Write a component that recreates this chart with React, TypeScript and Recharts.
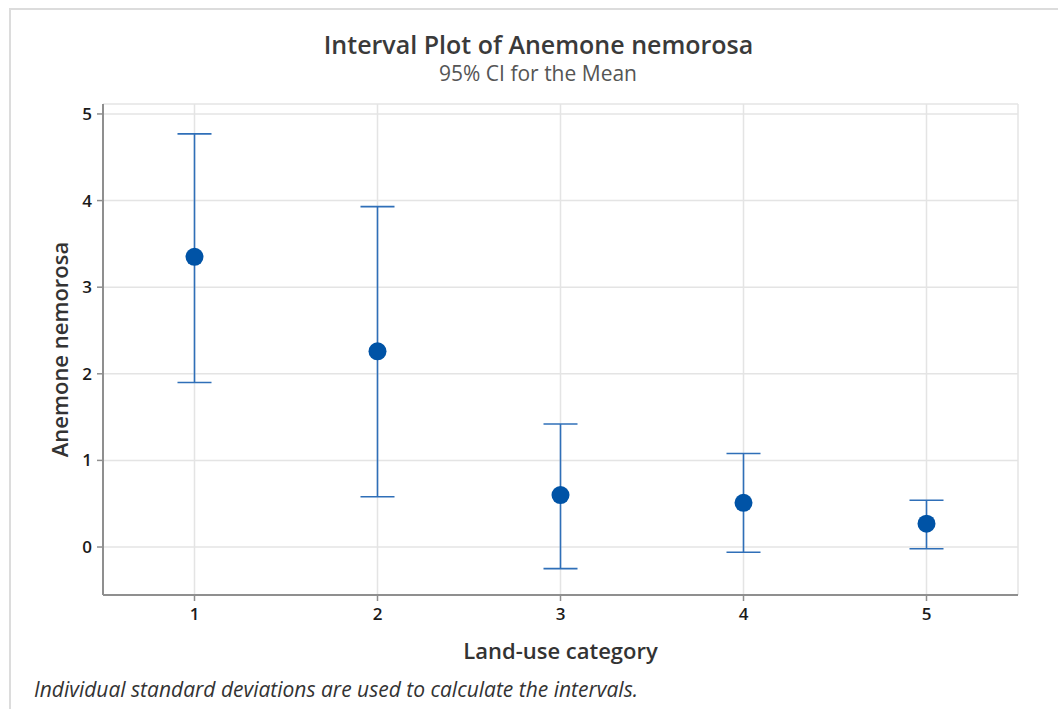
import React from "react";
import {
  ScatterChart,
  Scatter,
  XAxis,
  YAxis,
  CartesianGrid,
  ErrorBar,
  Label,
} from "recharts";

// Land-use categories and the 95% CI for the mean of each
const categories = [1, 2, 3, 4, 5];
const means = [3.35, 2.26, 0.6, 0.51, 0.27];
const lowers = [1.9, 0.58, -0.25, -0.06, -0.02];
const uppers = [4.77, 3.93, 1.42, 1.08, 0.54];
const yTicks = [0, 1, 2, 3, 4, 5];

const data = categories.map((c, i) => ({
  x: c,
  mean: means[i],
  ci: [means[i] - lowers[i], uppers[i] - means[i]],
}));

const FONT = "'Open Sans', 'Noto Sans', sans-serif";
const AXIS_GRAY = "#8f8f8f";
const GRID = "#e4e4e4";
const BAR_BLUE = "#2f6fb8";
const DOT_BLUE = "#0053a6";

const tickText = { fill: "#1a1a1a", fontSize: 17, fontWeight: 600, fontFamily: FONT };

type TickProps = { x?: number; y?: number; payload?: { value: number } };

function XTick({ x = 0, y = 0, payload }: TickProps) {
  return (
    <text x={x} y={y + 17} textAnchor="middle" style={tickText}>
      {payload?.value}
    </text>
  );
}

function YTick({ x = 0, y = 0, payload }: TickProps) {
  return (
    <text x={x - 1} y={y + 6} textAnchor="end" style={tickText}>
      {payload?.value}
    </text>
  );
}

function Dot(props: { cx?: number; cy?: number }) {
  const { cx, cy } = props;
  if (cx == null || cy == null) return null;
  return <circle cx={cx} cy={cy} r={9} fill={DOT_BLUE} />;
}

export default function App(): React.JSX.Element {
  return (
    <div style={{ position: "absolute", left: 0, top: 0, width: 1058, height: 709, background: "#fff", fontFamily: FONT }}>
      {/* outer panel border */}
      <div
        style={{
          position: "absolute",
          left: 9,
          top: 8,
          width: 1049,
          height: 701,
          borderTop: "2px solid #dcdcdc",
          borderLeft: "2px solid #dcdcdc",
        }}
      />
      <div style={{ position: "absolute", left: 0, top: 27, width: 1077, textAlign: "center", fontSize: 25, fontWeight: 600, color: "#3a3a3a" }}>
        Interval Plot of Anemone nemorosa
      </div>
      <div style={{ position: "absolute", left: 0, top: 59, width: 1076, textAlign: "center", fontSize: 21, color: "#555" }}>
        95% CI for the Mean
      </div>
      <div style={{ position: "absolute", left: 34, top: 675, fontSize: 21, fontStyle: "italic", color: "#333" }}>
        Individual standard deviations are used to calculate the intervals.
      </div>
      <ScatterChart
        width={1058}
        height={709}
        margin={{ top: 104, right: 40, bottom: 74, left: 30 }}
        style={{ position: "absolute", left: 0, top: 0 }}
      >
        <CartesianGrid stroke={GRID} strokeWidth={1.5} />
        <XAxis
          dataKey="x"
          type="number"
          domain={[0.5, 5.5]}
          ticks={categories}
          height={40}
          axisLine={{ stroke: AXIS_GRAY, strokeWidth: 2 }}
          tickLine={{ stroke: AXIS_GRAY, strokeWidth: 1.5 }}
          tickSize={6}
          tick={XTick}
          tickMargin={2}
        >
          <Label
            value="Land-use category"
            position="insideBottom"
            offset={-24}
            style={{ fill: "#333", fontSize: 22, fontWeight: 600, fontFamily: FONT }}
          />
        </XAxis>
        <XAxis xAxisId="top" orientation="top" type="number" domain={[0.5, 5.5]} height={0} tick={false} tickLine={false} axisLine={{ stroke: AXIS_GRAY, strokeWidth: 2 }} />
        <YAxis
          type="number"
          domain={[-0.554, 5.115]}
          ticks={yTicks}
          allowDataOverflow
          width={73}
          axisLine={{ stroke: AXIS_GRAY, strokeWidth: 2 }}
          tickLine={{ stroke: AXIS_GRAY, strokeWidth: 1.5 }}
          tickSize={6}
          tick={YTick}
          tickMargin={4}
        >
          <Label
            value="Anemone nemorosa"
            angle={-90}
            position="insideLeft"
            offset={30}
            style={{ fill: "#333", fontSize: 22, fontWeight: 600, fontFamily: FONT, textAnchor: "middle" }}
          />
        </YAxis>
        <YAxis yAxisId="right" orientation="right" type="number" domain={[-0.554, 5.115]} width={0} tick={false} tickLine={false} axisLine={{ stroke: AXIS_GRAY, strokeWidth: 2 }} />
        <Scatter data={data} dataKey="mean" shape={<Dot />} isAnimationActive={false}>
          <ErrorBar dataKey="ci" direction="y" width={17} stroke={BAR_BLUE} strokeWidth={1.6} isAnimationActive={false} />
        </Scatter>
      </ScatterChart>
    </div>
  );
}
